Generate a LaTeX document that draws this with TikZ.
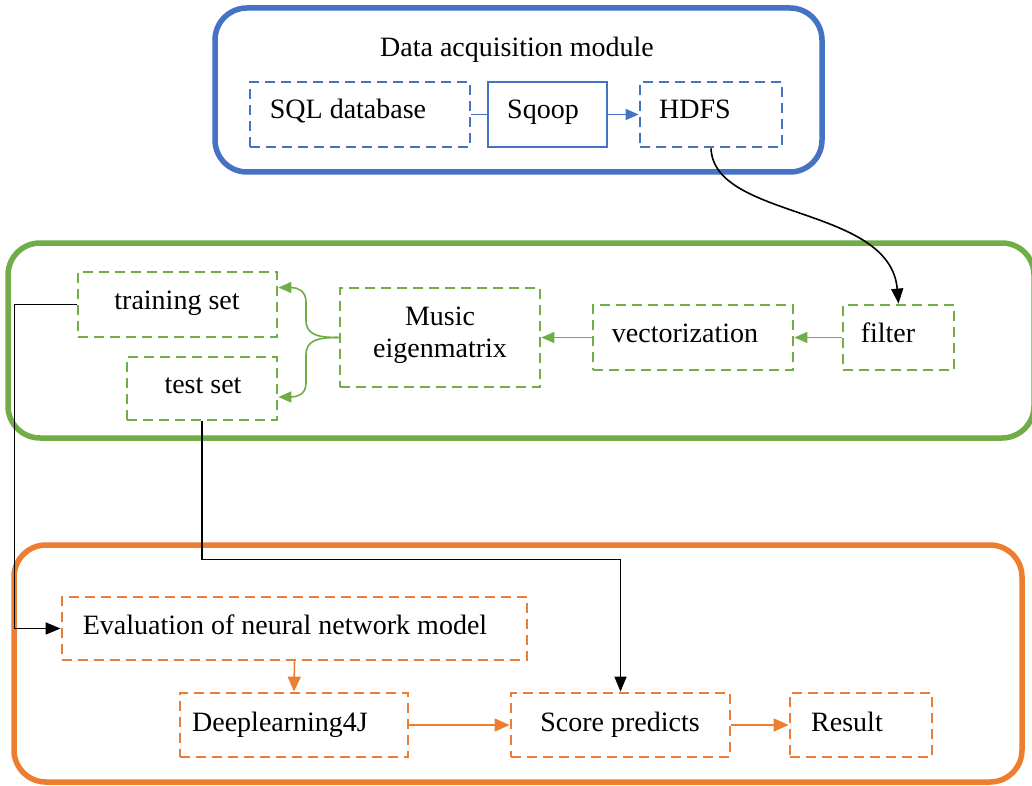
\documentclass[tikz,border=0pt]{standalone}
\usepackage{fontspec}
\setmainfont{Liberation Serif}
\usetikzlibrary{arrows.meta,calc}
\definecolor{cblue}{HTML}{4472C4}
\definecolor{cgreen}{HTML}{70AD47}
\definecolor{corange}{HTML}{ED7D31}
\begin{document}
\begin{tikzpicture}[x=1pt,y=-1pt,
  txt/.style={font=\fontsize{28}{32}\selectfont, inner sep=0pt, anchor=base},
  outer/.style={line width=5.5pt, rounded corners=32pt},
  dbox/.style={draw=#1, dash pattern=on 10pt off 6pt, line width=2.8pt, inner sep=0pt},
  sbox/.style={draw=#1, line width=1.6pt, inner sep=0pt},
  conn/.style={draw=#1, line width=1.6pt, -{Triangle[length=13pt,width=11pt]}},
  plain/.style={draw=#1, line width=1.6pt},
  blk/.style={draw=black, line width=1.6pt, -{Triangle[length=15pt,width=12pt]}}
]
\useasboundingbox (0,0) rectangle (1032,786);
\fill[white] (0,0) rectangle (1032,786);

% outer modules
\draw[outer, cblue] (215,8) rectangle (822,172);
\draw[outer, cgreen] (8,243) rectangle (1034,438);
\draw[outer, corange] (14,545) rectangle (1022,782);

% data acquisition module
\node[txt] (title) at (517,57) {Data acquisition module};
\node[dbox=cblue, minimum width=220pt, minimum height=65pt] (sql) at (360,114.5) {};
\node[sbox=cblue, minimum width=119pt, minimum height=65pt] (sqoop) at (547.5,114.5) {};
\node[dbox=cblue, minimum width=142pt, minimum height=65pt] (hdfs) at (711,114.5) {};
\node[txt] (tsql) at (348,119) {SQL database};
\node[txt] (tsqoop) at (543,119) {Sqoop};
\node[txt] (thdfs) at (695,119) {HDFS};
\draw[plain=cblue] (sql.east) -- (sqoop.west);
\draw[conn=cblue] (sqoop.east) -- (hdfs.west);

% processing module
\node[dbox=cgreen, minimum width=199pt, minimum height=65pt] (train) at (177.5,304.5) {};
\node[dbox=cgreen, minimum width=150pt, minimum height=63pt] (test) at (202,388.5) {};
\node[dbox=cgreen, minimum width=200pt, minimum height=99pt] (mus) at (440,337.5) {};
\node[dbox=cgreen, minimum width=200pt, minimum height=65pt] (vec) at (693,337.5) {};
\node[dbox=cgreen, minimum width=111pt, minimum height=65pt] (filt) at (898.5,337.5) {};
\node[txt] (ttrain) at (177,309) {training set};
\node[txt] (ttest) at (203,393) {test set};
\node[txt] (tmus1) at (440,325) {Music};
\node[txt] (tmus2) at (440,357) {eigenmatrix};
\node[txt] (tvec) at (685,342) {vectorization};
\node[txt] (tfilt) at (888,342) {filter};
\draw[conn=cgreen] (filt.west) -- (vec.east);
\draw[conn=cgreen] (vec.west) -- (mus.east);
\coordinate (tr) at ($(train.east)+(0,-17)$);
\coordinate (te) at ($(test.east)+(0,8.5)$);
\draw[conn=cgreen] (mus.west) .. controls (318,337.5) and (306,335) .. (306,320) -- (306,302) .. controls (306,291) and (298,287.5) .. (tr);
\draw[conn=cgreen] (mus.west) .. controls (318,337.5) and (306,340) .. (306,355) -- (306,383) .. controls (306,394) and (298,397) .. (te);

% HDFS -> filter
\draw[blk] (hdfs.south) .. controls (714,220) and (890,205) .. (filt.north);

% evaluation module
\node[dbox=corange, minimum width=465pt, minimum height=63pt] (eval) at (294.5,628.5) {};
\node[dbox=corange, minimum width=228pt, minimum height=64pt] (deep) at (294,725) {};
\node[dbox=corange, minimum width=219pt, minimum height=64pt] (score) at (620.5,725) {};
\node[dbox=corange, minimum width=142pt, minimum height=64pt] (res) at (861,725) {};
\node[txt] (teval) at (285,634) {Evaluation of neural network model};
\node[txt] (tdeep) at (280,731) {Deeplearning4J};
\node[txt] (tscore) at (620,731) {Score predicts};
\node[txt] (tres) at (847,731) {Result};
\draw[draw=corange, line width=1.6pt, -{Triangle[length=15pt,width=13pt]}] (eval.south) -- (deep.north);
\draw[draw=corange, line width=1.6pt, -{Triangle[length=15pt,width=13pt]}] (deep.east) -- (score.west);
\draw[draw=corange, line width=1.6pt, -{Triangle[length=15pt,width=13pt]}] (score.east) -- (res.west);

% black connectors
\draw[blk] (train.west) -- ++(-62,0) |- (eval.west);
\draw[blk] (test.south) -- ++(0,138) -| (score.north);
\end{tikzpicture}
\end{document}
